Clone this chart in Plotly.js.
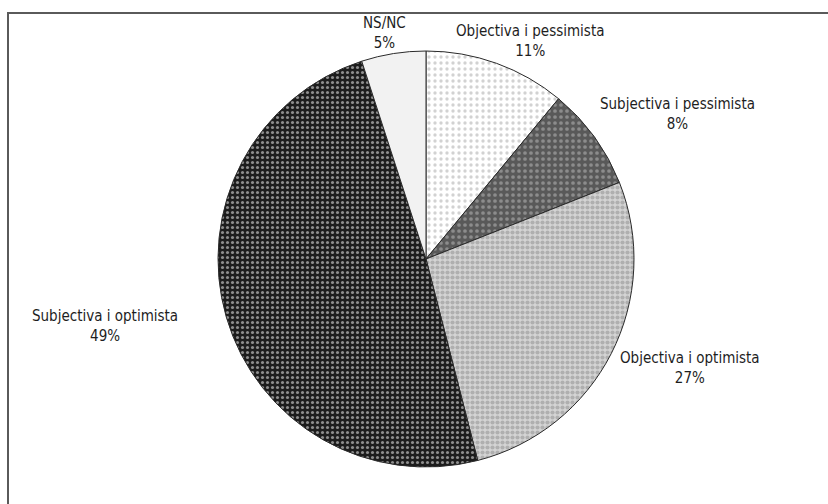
<!DOCTYPE html>
<html>
<head>
<meta charset="utf-8">
<script src="https://cdn.plot.ly/plotly-3.0.1.min.js"></script>
<style>html,body{margin:0;padding:0;background:#fff;}#chart{width:828px;height:504px;}</style>
</head>
<body>
<div id="chart"></div>
<script>
const labels = ["Objectiva i pessimista", "Subjectiva i pessimista", "Objectiva i optimista", "Subjectiva i optimista", "NS/NC"];
const values = [11, 8, 27, 49, 5];

const patternBg = ["#ffffff", "#595959", "#d4d4d4", "#1c1c1c", "#f2f2f2"];
const patternFg = ["#a6a6a6", "#bfbfbf", "#8a8a8a", "#ffffff", "#f2f2f2"];
const patternShape = [".", ".", ".", ".", ""];
const patternSize = [6, 6, 5, 5, 6];
const patternSolidity = [0.25, 0.3, 0.55, 0.3, 0.1];

// label placement (paper pixels, centre of text block)
const labelPosPx = [[530, 41], [677, 114], [690, 368], [105, 326], [384, 33]];

const FONT = "DejaVu Sans Condensed, Liberation Sans Narrow, Arial Narrow, sans-serif";

const trace = {
  type: "pie",
  labels: labels,
  values: values,
  sort: false,
  direction: "clockwise",
  rotation: 0,
  textinfo: "none",
  hoverinfo: "label+percent",
  domain: {x: [218/828, 634/828], y: [37/504, 453/504]},
  marker: {
    colors: patternBg,
    line: {color: "#2a2a2a", width: 1},
    pattern: {
      shape: patternShape,
      fgcolor: patternFg,
      bgcolor: patternBg,
      size: patternSize,
      solidity: patternSolidity,
      fillmode: "overlay"
    }
  }
};

const total = values.reduce((a, b) => a + b, 0);
const annotations = labels.map((lab, i) => ({
  xref: "paper", yref: "paper",
  x: labelPosPx[i][0] / 828, y: 1 - labelPosPx[i][1] / 504,
  xanchor: "center", yanchor: "middle",
  text: lab + "<br>" + Math.round(values[i] / total * 100) + "%",
  showarrow: false, align: "center",
  font: {family: FONT, size: 15, color: "#1e1e1e"}
}));

const layout = {
  width: 828,
  height: 504,
  margin: {l: 0, r: 0, t: 0, b: 0},
  showlegend: false,
  paper_bgcolor: "#ffffff",
  font: {family: FONT, size: 15, color: "#1e1e1e"},
  annotations: annotations,
  shapes: [{
    type: "rect", xref: "paper", yref: "paper",
    x0: 8/828, x1: 1.2, y0: -0.2, y1: 1 - 13/504,
    line: {color: "#5a5a5a", width: 2}
  }]
};

Plotly.newPlot("chart", [trace], layout, {displayModeBar: false, staticPlot: true});
</script>
</body>
</html>
